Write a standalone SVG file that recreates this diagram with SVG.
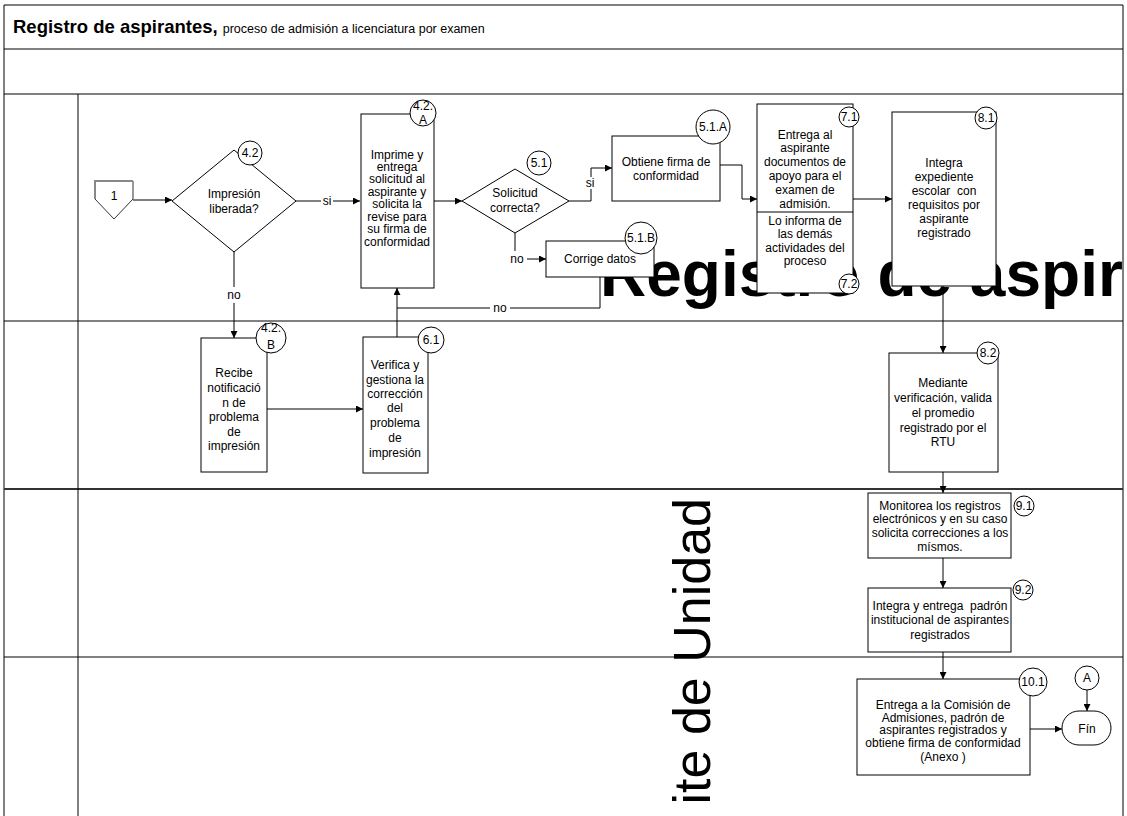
<svg xmlns="http://www.w3.org/2000/svg" width="1127" height="816" viewBox="0 0 1127 816">
<style>
.t{font-family:"Liberation Sans",Arial,sans-serif;font-size:12px;fill:#000;text-anchor:middle;white-space:pre}
.box{fill:#fff;stroke:#000;stroke-width:1}
.ln{fill:none;stroke:#000;stroke-width:1}
.cn{fill:none;stroke:#000;stroke-width:1;marker-end:url(#ah)}
.lane{stroke:#000;stroke-width:1}
</style>
<defs>
<marker id="ah" viewBox="0 0 10 10" refX="10" refY="5" markerWidth="9" markerHeight="7" markerUnits="userSpaceOnUse" orient="auto">
<path d="M0,0 L10,5 L0,10 z" fill="#000"/>
</marker>
<clipPath id="laneclip"><rect x="4" y="94" width="1119" height="722"/></clipPath>
</defs>
<rect width="1127" height="816" fill="#fff"/>
<g id="frame">
<line class="lane" x1="4" y1="5" x2="1123" y2="5"/>
<line class="lane" x1="4" y1="5" x2="4" y2="816"/>
<line class="lane" x1="1123" y1="5" x2="1123" y2="816"/>
<line class="lane" x1="4" y1="49" x2="1123" y2="49"/>
<line class="lane" x1="4" y1="94" x2="1123" y2="94"/>
<line class="lane" x1="4" y1="321" x2="1123" y2="321"/>
<line x1="4" y1="489" x2="1123" y2="489" stroke="#333" stroke-width="2"/>
<line class="lane" x1="4" y1="657" x2="1123" y2="657"/>
<line class="lane" x1="78" y1="94" x2="78" y2="816"/>
<text x="13" y="33" font-family="Liberation Sans, Arial, sans-serif" font-size="18.5" font-weight="bold">Registro de aspirantes, <tspan font-size="12.5" font-weight="normal">proceso de admisión a licenciatura  por examen</tspan></text>
</g>
<g id="lane-labels" clip-path="url(#laneclip)">
<text x="600" y="296" font-family="Liberation Sans, Arial, sans-serif" font-size="64" font-weight="bold">Registro de aspirantes</text>
<text transform="translate(710,498) rotate(-90)" font-family="Liberation Sans, Arial, sans-serif" font-size="52" text-anchor="end">ite de Unidad</text>
</g>
<g id="connectors">
<path class="cn" d="M133,200 L172,200"/>
<path class="ln" d="M296,201 L321,201"/>
<path class="cn" d="M333,201 L360,201"/>
<text class="t" x="327" y="205">si</text>
<path class="ln" d="M234,252 L234,287"/>
<path class="cn" d="M234,303 L234,338"/>
<text class="t" x="234" y="299">no</text>
<path class="cn" d="M434,201 L462,201"/>
<path class="ln" d="M569,201 L591,201 L591,189"/>
<path class="cn" d="M591,177 L591,168 L612,168"/>
<text class="t" x="590" y="187">si</text>
<path class="ln" d="M515,233 L515,251"/>
<path class="cn" d="M527,259 L546,259"/>
<text class="t" x="517" y="263">no</text>
<path class="cn" d="M720,165 L742,165 L742,199 L757,199"/>
<path class="cn" d="M853,199 L892,199"/>
<path class="cn" d="M943,286 L943,353"/>
<path class="cn" d="M943,472 L943,493"/>
<path class="cn" d="M943,558 L943,588"/>
<path class="cn" d="M943,652 L943,679"/>
<path class="cn" d="M1030,729 L1062,729"/>
<path class="cn" d="M1087,690 L1087,711"/>
<path class="cn" d="M267,409 L363,409"/>
<path class="cn" d="M397,337 L397,288"/>
<path class="ln" d="M600,277 L600,308 L510,308"/>
<path class="ln" d="M490,308 L397,308"/>
<text class="t" x="500" y="312">no</text>
</g>
<g id="n1">
<path d="M95,181 L133,181 L133,199 L114,219 L95,199 Z" fill="#fff" stroke="#333" stroke-width="1"/>
<path d="M95,199 L95,181 L133,181" fill="none" stroke="#888" stroke-width="2"/>
<text class="t" x="114" y="200" font-size="11">1</text>
</g>
<g id="n4_2">
<path class="box" d="M172,201 L234,150 L296,201 L234,252 Z"/>
<text class="t" x="234" y="198">Impresión</text>
<text class="t" x="234" y="213">liberada?</text>
<circle class="box" cx="250" cy="153" r="12"/>
<text class="t" x="250" y="157">4.2</text>
</g>
<g id="n4_2A">
<rect class="box" x="361" y="114" width="73" height="174"/>
<text class="t" x="397" y="159">Imprime y</text>
<text class="t" x="397" y="171">entrega</text>
<text class="t" x="397" y="183">solicitud al</text>
<text class="t" x="397" y="196">aspirante y</text>
<text class="t" x="397" y="208">solicita la</text>
<text class="t" x="397" y="221">revise para</text>
<text class="t" x="397" y="233">su firma de</text>
<text class="t" x="397" y="246">conformidad</text>
<circle class="box" cx="423" cy="113" r="13"/>
<text class="t" x="423" y="110">4.2.</text>
<text class="t" x="423" y="124">A</text>
</g>
<g id="n5_1">
<path class="box" d="M462,201 L515,169 L569,201 L515,233 Z"/>
<text class="t" x="515" y="197">Solicitud</text>
<text class="t" x="515" y="212">correcta?</text>
<circle class="box" cx="539" cy="163" r="12"/>
<text class="t" x="539" y="167">5.1</text>
</g>
<g id="n5_1A">
<rect class="box" x="612" y="136" width="108" height="65"/>
<text class="t" x="666" y="166">Obtiene firma de</text>
<text class="t" x="666" y="180">conformidad</text>
<circle class="box" cx="713" cy="127" r="17"/>
<text class="t" x="713" y="131">5.1.A</text>
</g>
<g id="n5_1B">
<rect class="box" x="546" y="241" width="108" height="36"/>
<text class="t" x="600" y="263">Corrige datos</text>
<circle class="box" cx="641" cy="238" r="16"/>
<text class="t" x="641" y="242">5.1.B</text>
</g>
<g id="n7">
<rect class="box" x="757" y="104" width="96" height="189"/>
<line class="ln" x1="757" y1="212" x2="853" y2="212"/>
<text class="t" x="805" y="139">Entrega al</text>
<text class="t" x="805" y="152">aspirante</text>
<text class="t" x="805" y="166">documentos de</text>
<text class="t" x="805" y="180">apoyo para el</text>
<text class="t" x="805" y="194">examen de</text>
<text class="t" x="805" y="208">admisión.</text>
<text class="t" x="805" y="225">Lo informa de</text>
<text class="t" x="805" y="238">las demás</text>
<text class="t" x="805" y="252">actividades del</text>
<text class="t" x="805" y="265">proceso</text>
<circle class="box" cx="849" cy="117" r="10"/>
<text class="t" x="849" y="121">7.1</text>
<circle class="box" cx="849" cy="284" r="10"/>
<text class="t" x="849" y="288">7.2</text>
</g>
<g id="n8_1">
<rect class="box" x="892" y="112" width="104" height="174"/>
<text class="t" x="944" y="167">Integra</text>
<text class="t" x="944" y="181">expediente</text>
<text class="t" x="944" y="195">escolar  con</text>
<text class="t" x="944" y="209">requisitos por</text>
<text class="t" x="944" y="223">aspirante</text>
<text class="t" x="944" y="237">registrado</text>
<circle class="box" cx="986" cy="118" r="11"/>
<text class="t" x="986" y="122">8.1</text>
</g>
<g id="n4_2B">
<rect class="box" x="201" y="338" width="66" height="134"/>
<text class="t" x="234" y="377">Recibe</text>
<text class="t" x="234" y="392">notificació</text>
<text class="t" x="234" y="407">n de</text>
<text class="t" x="234" y="421">problema</text>
<text class="t" x="234" y="436">de</text>
<text class="t" x="234" y="450">impresión</text>
<circle class="box" cx="271" cy="338" r="15"/>
<text class="t" x="271" y="332">4.2.</text>
<text class="t" x="271" y="349">B</text>
</g>
<g id="n6_1">
<rect class="box" x="363" y="337" width="65" height="136"/>
<text class="t" x="395" y="369">Verifica y</text>
<text class="t" x="395" y="384">gestiona la</text>
<text class="t" x="395" y="398">corrección</text>
<text class="t" x="395" y="412">del</text>
<text class="t" x="395" y="427">problema</text>
<text class="t" x="395" y="442">de</text>
<text class="t" x="395" y="457">impresión</text>
<circle class="box" cx="431" cy="340" r="13"/>
<text class="t" x="431" y="344">6.1</text>
</g>
<g id="n8_2">
<rect class="box" x="889" y="353" width="109" height="119"/>
<text class="t" x="943" y="387">Mediante</text>
<text class="t" x="943" y="402">verificación, valida</text>
<text class="t" x="943" y="417">el promedio</text>
<text class="t" x="943" y="432">registrado por el</text>
<text class="t" x="943" y="446">RTU</text>
<circle class="box" cx="988" cy="353" r="11"/>
<text class="t" x="988" y="357">8.2</text>
</g>
<g id="n9_1">
<rect class="box" x="868" y="493" width="143" height="65"/>
<text class="t" x="940" y="510">Monitorea los registros</text>
<text class="t" x="940" y="523">electrónicos y en su caso</text>
<text class="t" x="940" y="537">solicita correcciones a los</text>
<text class="t" x="940" y="551">mísmos.</text>
<circle class="box" cx="1024" cy="506" r="10"/>
<text class="t" x="1024" y="510">9.1</text>
</g>
<g id="n9_2">
<rect class="box" x="868" y="588" width="143" height="64"/>
<text class="t" x="940" y="610">Integra y entrega  padrón</text>
<text class="t" x="940" y="624">institucional de aspirantes</text>
<text class="t" x="940" y="639">registrados</text>
<circle class="box" cx="1023" cy="590" r="10"/>
<text class="t" x="1023" y="594">9.2</text>
</g>
<g id="n10_1">
<rect class="box" x="857" y="679" width="173" height="96"/>
<text class="t" x="943" y="709">Entrega a la Comisión de</text>
<text class="t" x="943" y="722">Admisiones, padrón de</text>
<text class="t" x="943" y="734">aspirantes registrados y</text>
<text class="t" x="943" y="747">obtiene firma de conformidad</text>
<text class="t" x="943" y="761">(Anexo )</text>
<circle class="box" cx="1033" cy="682" r="14"/>
<text class="t" x="1033" y="686">10.1</text>
</g>
<g id="nA">
<circle class="box" cx="1087" cy="678" r="12"/>
<text class="t" x="1087" y="682">A</text>
</g>
<g id="nFin">
<rect class="box" x="1062" y="711" width="49" height="34" rx="17" ry="17"/>
<text class="t" x="1087" y="733">Fín</text>
</g>
</svg>
